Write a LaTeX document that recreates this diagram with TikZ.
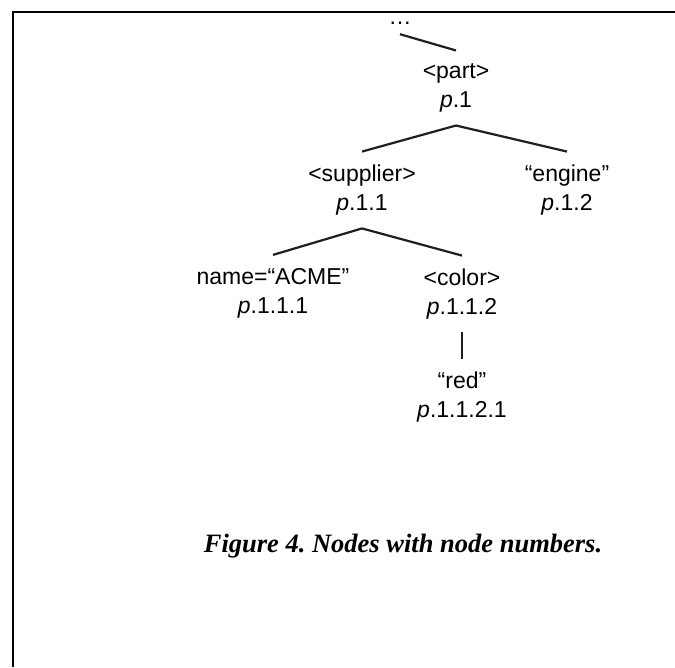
\documentclass[tikz,border=0pt]{standalone}
\usepackage{fontspec}
\setmainfont{Liberation Sans}
\newfontfamily\captionfont{Liberation Serif}
\frenchspacing
\begin{document}
\begin{tikzpicture}[x=1pt,y=-1pt,
  treenode/.style={align=center, inner sep=13pt,
    font=\fontsize{23}{29}\selectfont},
  edge/.style={line width=2.2pt, draw=black!88},
  frameline/.style={line width=2.6pt}]
\useasboundingbox (0,0) rectangle (675,667);

% page frame (top and left rules)
\draw[frameline] (675,12) -- (13,12) -- (13,667);

% tree nodes: tag or value, then its node number
\node[treenode, inner sep=10pt, anchor=base] (dots) at (400,24) {\ldots};
\node[treenode] (part) at (456,88) {<part>\\\textit{p}.1};
\node[treenode] (supplier) at (362,190) {<supplier>\\\textit{p}.1.1};
\node[treenode] (engine) at (567,190) {“engine”\\\textit{p}.1.2};
\node[treenode] (name) at (273,293) {name=“ACME”\\\textit{p}.1.1.1};
\node[treenode] (color) at (462,294) {<color>\\\textit{p}.1.1.2};
\node[treenode] (red) at (462,397) {“red”\\\textit{p}.1.1.2.1};

% connectors
\draw[edge] (dots.south) -- (part.north);
\draw[edge] (part.south) -- (supplier.north);
\draw[edge] (part.south) -- (engine.north);
\draw[edge] (supplier.south) -- (name.north);
\draw[edge] (supplier.south) -- (color.north);
\draw[edge] (color.south) -- (red.north);

% caption
\node[anchor=base, inner sep=0pt,
  font=\captionfont\bfseries\itshape\fontsize{26.5}{30}\selectfont]
  (caption) at (403,552) {Figure 4. Nodes with node numbers.};
\end{tikzpicture}
\end{document}
